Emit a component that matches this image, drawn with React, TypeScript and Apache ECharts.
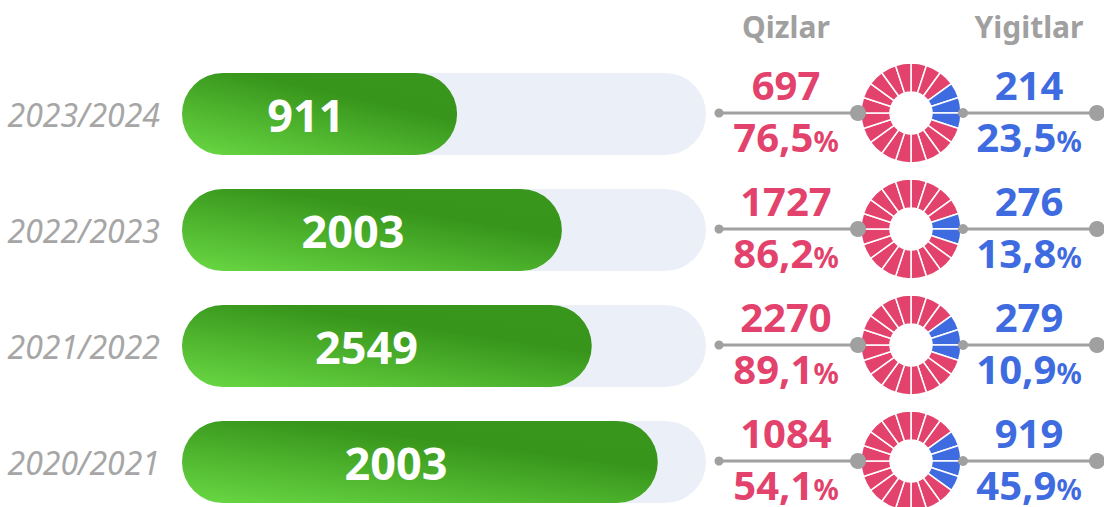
import { useEffect, useRef } from "react";
import * as echarts from "echarts";

const years = ["2023/2024", "2022/2023", "2021/2022", "2020/2021"];
const totals = [911, 2003, 2549, 2003];
// bar lengths as drawn in the picture (percent of the track)
const barLength = [52.5, 72.5, 78.2, 90.8];
const girls = [697, 1727, 2270, 1084];
const girlsPct = ["76,5", "86,2", "89,1", "54,1"];
const boys = [214, 276, 279, 919];
const boysPct = ["23,5", "13,8", "10,9", "45,9"];
const headers = ["Qizlar", "Yigitlar"];
const ringSegments = 20;
const boyFirstSegment = [3, 4, 3, 3];
const boySegmentCount = [3, 2, 3, 4];

const RED = "#e2426b";
const BLUE = "#3f6be0";
const GRAY = "#a0a0a0";
const FONT = "'Noto Sans', 'Open Sans', sans-serif";

const GRID_TOP = 56;
const BAND = 116;
const rowY = (i: number) => GRID_TOP + BAND * (i + 0.5);

export default function App() {
  const ref = useRef<HTMLDivElement>(null);
  useEffect(() => {
    if (!ref.current) return;
    const chart = echarts.init(ref.current, undefined, { renderer: "svg" });

    const pies = years.map((_, i) => ({
      type: "pie",
      center: [911, rowY(i) - 1],
      radius: [21, 50],
      startAngle: 90,
      clockwise: true,
      silent: true,
      avoidLabelOverlap: false,
      label: { show: false },
      labelLine: { show: false },
      emphasis: { disabled: true },
      itemStyle: { borderColor: "#ffffff", borderWidth: 1.5 },
      data: Array.from({ length: ringSegments }, (_, k) => ({
        value: 1,
        itemStyle: {
          color:
            k >= boyFirstSegment[i] && k < boyFirstSegment[i] + boySegmentCount[i]
              ? BLUE
              : RED,
        },
      })),
    }));

    const graphics: any[] = [];
    headers.forEach((h, j) => {
      graphics.push({
        type: "text",
        x: j === 0 ? 786 : 1029,
        y: 26,
        style: {
          text: h,
          fill: GRAY,
          fontSize: 30,
          fontWeight: "bold",
          fontFamily: FONT,
          align: "center",
          verticalAlign: "middle",
        },
      });
    });
    years.forEach((_, i) => {
      const y = rowY(i) - 1;
      graphics.push(
        { type: "line", z: 5, shape: { x1: 719, y1: y, x2: 858, y2: y }, style: { stroke: GRAY, lineWidth: 3 } },
        { type: "circle", z: 6, shape: { cx: 719, cy: y, r: 4.5 }, style: { fill: GRAY } },
        { type: "circle", z: 6, shape: { cx: 858, cy: y, r: 8 }, style: { fill: GRAY } },
        { type: "line", z: 5, shape: { x1: 963, y1: y, x2: 1097, y2: y }, style: { stroke: GRAY, lineWidth: 3 } },
        { type: "circle", z: 6, shape: { cx: 963, cy: y, r: 5 }, style: { fill: GRAY } },
        { type: "circle", z: 6, shape: { cx: 1097, cy: y, r: 8 }, style: { fill: GRAY } }
      );
      const side = [
        { x: 786, n: girls[i], p: girlsPct[i], c: RED },
        { x: 1029, n: boys[i], p: boysPct[i], c: BLUE },
      ];
      side.forEach((s) => {
        graphics.push({
          type: "text",
          x: s.x,
          y: y - 29,
          z: 7,
          style: {
            text: String(s.n),
            fill: s.c,
            fontSize: 40,
            fontWeight: "bold",
            fontFamily: FONT,
            align: "center",
            verticalAlign: "middle",
          },
        });
        graphics.push({
          type: "text",
          x: s.x,
          y: y + 23,
          z: 7,
          style: {
            text: `{a|${s.p}}{b|%}`,
            fill: s.c,
            align: "center",
            verticalAlign: "middle",
            rich: {
              a: { fontSize: 40, fontWeight: "bold", fontFamily: FONT, fill: s.c },
              b: { fontSize: 28, fontWeight: "bold", fontFamily: FONT, fill: s.c, padding: [9, 0, 0, 0] },
            },
          },
        });
      });
    });

    chart.setOption({
      animation: false,
      grid: { left: 182, top: GRID_TOP, width: 524, height: BAND * years.length },
      xAxis: { type: "value", min: 0, max: 100, show: false },
      yAxis: {
        type: "category",
        data: years,
        inverse: true,
        axisLine: { show: false },
        axisTick: { show: false },
        splitLine: { show: false },
        axisLabel: {
          color: "#a6a6a6",
          fontSize: 32,
          fontStyle: "italic",
          fontFamily: FONT,
          margin: 22,
        },
      },
      series: [
        {
          type: "bar",
          data: barLength,
          barWidth: 82,
          silent: true,
          showBackground: true,
          backgroundStyle: { color: "#ebf0f8", borderRadius: 41 },
          itemStyle: {
            borderRadius: 41,
            color: new echarts.graphic.LinearGradient(0, 1, 0.75, 0, [
              { offset: 0, color: "#6ad944" },
              { offset: 0.75, color: "#37951b" },
              { offset: 1, color: "#38961c" },
            ]),
          },
          label: {
            show: true,
            position: ["45%", "50%"],
            align: "center",
            verticalAlign: "middle",
            formatter: (p: any) => String(totals[p.dataIndex]),
            color: "#ffffff",
            fontSize: 45,
            fontWeight: "bold",
            fontFamily: FONT,
          },
        },
        ...pies,
      ],
      graphic: graphics,
    });
    return () => chart.dispose();
  }, []);
  return (
    <div
      ref={ref}
      style={{ position: "fixed", left: 0, top: 0, width: 1104, height: 520, background: "#fff" }}
    />
  );
}
